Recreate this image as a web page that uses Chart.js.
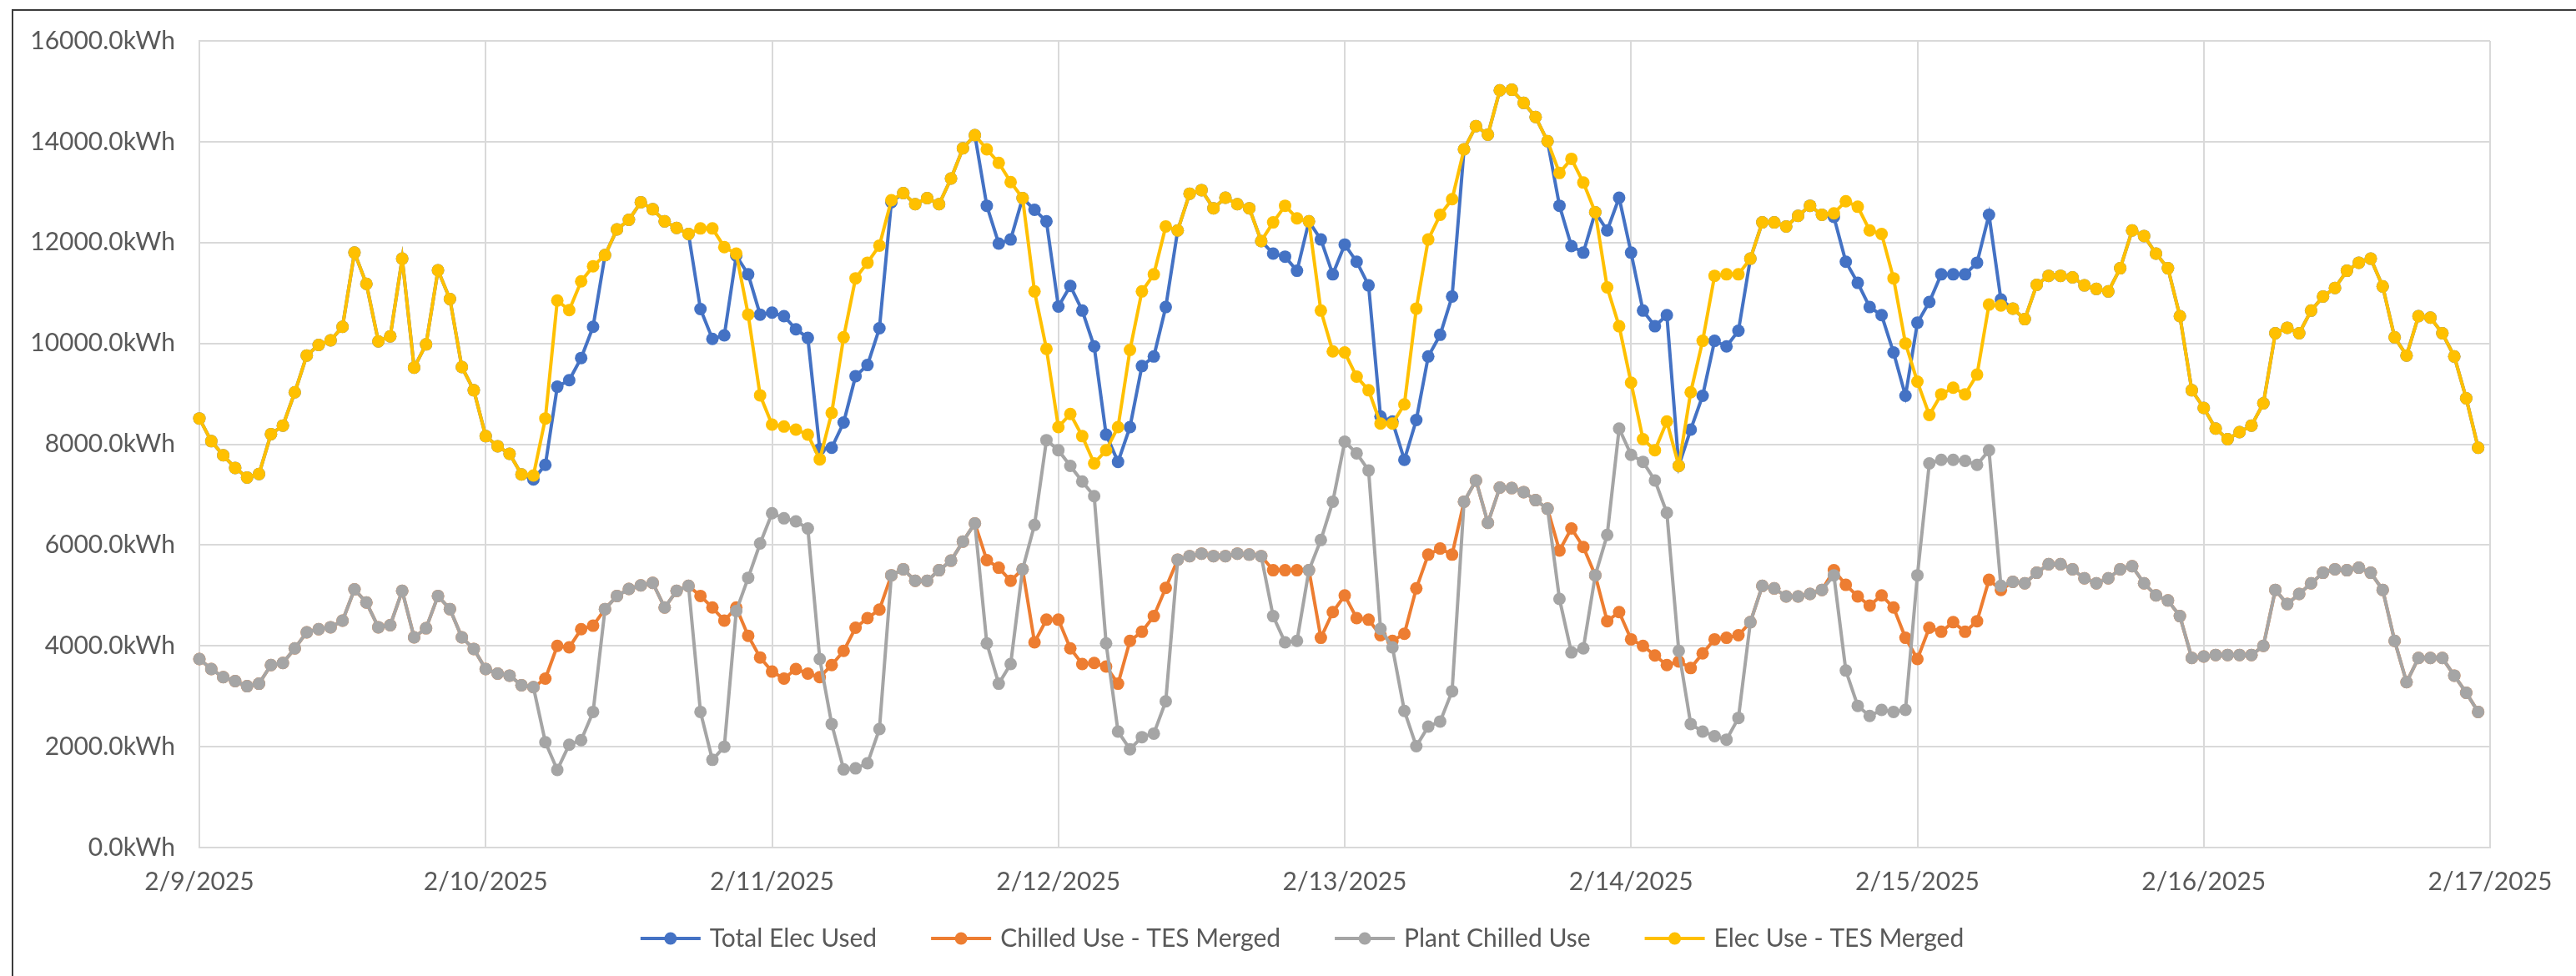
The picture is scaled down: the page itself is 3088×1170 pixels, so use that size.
<!DOCTYPE html>
<html>
<head>
<meta charset="utf-8">
<title>Hourly Electricity and Chilled Water Use</title>
<script src="https://cdn.jsdelivr.net/npm/chart.js@4.4.1/dist/chart.umd.min.js"></script>
<style>
  html, body { margin: 0; padding: 0; background: #ffffff; }
  #wrap { width: 3088px; height: 1170px; position: relative; }
  canvas { display: block; }
</style>
</head>
<body>
<div id="wrap"><canvas id="chart" width="3088" height="1170"></canvas></div>
<script>
// Day tick labels (one tick every 24 hourly samples)
const dayLabels = ['2/9/2025', '2/10/2025', '2/11/2025', '2/12/2025', '2/13/2025',
                   '2/14/2025', '2/15/2025', '2/16/2025', '2/17/2025'];
const hoursPerDay = 24;

const seriesNames = ['Total Elec Used', 'Chilled Use - TES Merged', 'Plant Chilled Use', 'Elec Use - TES Merged'];

// Hourly values, kWh
const totalElecUsed = [
  8510, 8060, 7780, 7530, 7340, 7410, 8200, 8370, 9030, 9760, 9970, 10060, 10330, 11800, 11180, 10040, 10140, 11680, 9520, 9980, 11450, 10880, 9530, 9070,
  8160, 7960, 7810, 7400, 7300, 7590, 9140, 9270, 9710, 10330, 11750, 12260, 12450, 12800, 12660, 12420, 12290, 12170, 10680, 10090, 10160, 11740, 11370, 10570,
  10610, 10540, 10280, 10110, 7900, 7930, 8430, 9350, 9570, 10300, 12800, 12980, 12760, 12880, 12760, 13270, 13870, 14130, 12730, 11980, 12060, 12880, 12650, 12420,
  10730, 11140, 10650, 9940, 8190, 7650, 8340, 9550, 9740, 10720, 12240, 12970, 13040, 12680, 12890, 12760, 12680, 12030, 11780, 11720, 11440, 12420, 12060, 11370,
  11960, 11620, 11150, 8550, 8450, 7690, 8480, 9740, 10170, 10930, 13850, 14310, 14140, 15020, 15030, 14770, 14490, 14010, 12730, 11930, 11800, 12600, 12240, 12890,
  11800, 10650, 10340, 10560, 7570, 8290, 8960, 10050, 9940, 10250, 11680, 12400, 12400, 12320, 12530, 12730, 12550, 12510, 11620, 11200, 10720, 10560, 9820, 8960,
  10410, 10820, 11370, 11370, 11370, 11600, 12550, 10870, 10690, 10480, 11160, 11340, 11340, 11310, 11150, 11080, 11030, 11490, 12240, 12130, 11780, 11490, 10540, 9070,
  8720, 8310, 8100, 8240, 8370, 8810, 10200, 10310, 10200, 10650, 10930, 11100, 11440, 11600, 11680, 11130, 10120, 9760, 10540, 10510, 10200, 9740, 8910, 7930
];

const chilledUseTesMerged = [
  3740, 3540, 3380, 3300, 3200, 3250, 3620, 3660, 3950, 4270, 4330, 4370, 4500, 5120, 4860, 4370, 4410, 5090, 4170, 4350, 4990, 4730, 4170, 3940,
  3540, 3450, 3410, 3220, 3180, 3350, 4000, 3970, 4330, 4400, 4730, 4990, 5130, 5200, 5250, 4760, 5090, 5190, 4990, 4760, 4500, 4760, 4200, 3770,
  3490, 3350, 3540, 3450, 3380, 3620, 3900, 4360, 4550, 4720, 5400, 5520, 5290, 5290, 5500, 5690, 6070, 6430, 5700, 5550, 5290, 5520, 4070, 4520,
  4520, 3950, 3640, 3660, 3590, 3250, 4100, 4280, 4590, 5150, 5710, 5780, 5830, 5780, 5780, 5830, 5810, 5780, 5500, 5500, 5500, 5500, 4160, 4670,
  5000, 4550, 4520, 4210, 4100, 4240, 5140, 5810, 5930, 5810, 6860, 7280, 6440, 7140, 7130, 7050, 6890, 6720, 5890, 6330, 5960, 5400, 4490, 4670,
  4130, 4000, 3810, 3620, 3690, 3560, 3850, 4130, 4160, 4210, 4470, 5190, 5140, 4980, 4980, 5030, 5110, 5500, 5210, 4980, 4800, 5000, 4760, 4160,
  3740, 4360, 4280, 4470, 4280, 4490, 5310, 5110, 5270, 5240, 5450, 5620, 5620, 5520, 5340, 5240, 5340, 5520, 5580, 5240, 5000, 4900, 4590, 3760,
  3790, 3820, 3820, 3820, 3820, 4000, 5110, 4830, 5030, 5240, 5450, 5520, 5500, 5550, 5450, 5110, 4100, 3280, 3760, 3760, 3760, 3410, 3070, 2690
];

const plantChilledUse = [
  3740, 3540, 3380, 3300, 3200, 3250, 3620, 3660, 3950, 4270, 4330, 4370, 4500, 5120, 4860, 4370, 4410, 5090, 4170, 4350, 4990, 4730, 4170, 3940,
  3540, 3450, 3410, 3220, 3180, 2090, 1540, 2040, 2130, 2690, 4730, 4990, 5130, 5200, 5250, 4760, 5090, 5190, 2690, 1740, 2000, 4690, 5350, 6030,
  6630, 6530, 6470, 6330, 3740, 2450, 1550, 1570, 1670, 2350, 5400, 5520, 5290, 5290, 5500, 5690, 6070, 6430, 4050, 3250, 3640, 5520, 6400, 8080,
  7880, 7570, 7260, 6970, 4050, 2300, 1950, 2190, 2260, 2900, 5710, 5780, 5830, 5780, 5780, 5830, 5810, 5780, 4590, 4070, 4100, 5500, 6100, 6860,
  8050, 7820, 7480, 4340, 3970, 2710, 2010, 2400, 2500, 3100, 6860, 7280, 6440, 7140, 7130, 7050, 6890, 6720, 4930, 3870, 3950, 5400, 6200, 8310,
  7790, 7650, 7280, 6640, 3900, 2450, 2300, 2210, 2140, 2570, 4470, 5190, 5140, 4980, 4980, 5030, 5110, 5400, 3510, 2810, 2610, 2730, 2690, 2730,
  5400, 7620, 7690, 7690, 7670, 7590, 7880, 5190, 5270, 5240, 5450, 5620, 5620, 5520, 5340, 5240, 5340, 5520, 5580, 5240, 5000, 4900, 4590, 3760,
  3790, 3820, 3820, 3820, 3820, 4000, 5110, 4830, 5030, 5240, 5450, 5520, 5500, 5550, 5450, 5110, 4100, 3280, 3760, 3760, 3760, 3410, 3070, 2690
];

const elecUseTesMerged = [
  8510, 8060, 7780, 7530, 7340, 7410, 8200, 8370, 9030, 9760, 9970, 10060, 10330, 11800, 11180, 10040, 10140, 11680, 9520, 9980, 11450, 10880, 9530, 9070,
  8160, 7960, 7810, 7400, 7380, 8510, 10850, 10660, 11230, 11530, 11750, 12260, 12450, 12800, 12660, 12420, 12290, 12170, 12280, 12280, 11910, 11780, 10570, 8970,
  8390, 8350, 8290, 8190, 7700, 8620, 10120, 11290, 11600, 11940, 12840, 12980, 12760, 12880, 12760, 13270, 13870, 14130, 13850, 13580, 13200, 12880, 11030, 9890,
  8340, 8600, 8160, 7620, 7880, 8340, 9870, 11030, 11370, 12320, 12240, 12970, 13040, 12680, 12890, 12760, 12680, 12030, 12400, 12730, 12480, 12420, 10650, 9840,
  9820, 9340, 9070, 8410, 8410, 8790, 10690, 12060, 12550, 12860, 13850, 14310, 14140, 15020, 15030, 14770, 14490, 14010, 13380, 13660, 13190, 12600, 11110, 10340,
  9220, 8100, 7880, 8450, 7570, 9030, 10050, 11340, 11370, 11370, 11680, 12400, 12400, 12320, 12530, 12730, 12550, 12580, 12820, 12710, 12240, 12170, 11290, 10000,
  9240, 8580, 8990, 9120, 8990, 9380, 10770, 10750, 10690, 10480, 11160, 11340, 11340, 11310, 11150, 11080, 11030, 11490, 12240, 12130, 11780, 11490, 10540, 9070,
  8720, 8310, 8100, 8240, 8370, 8810, 10200, 10310, 10200, 10650, 10930, 11100, 11440, 11600, 11680, 11130, 10120, 9760, 10540, 10510, 10200, 9740, 8910, 7930
];

const seriesValues = [totalElecUsed, chilledUseTesMerged, plantChilledUse, elecUseTesMerged];
const seriesColors = ['#4472C4', '#ED7D31', '#A5A5A5', '#FFC000'];
// later series sit on top of earlier ones
const drawOrder = [4, 3, 2, 1];

const yMax = 16000;
const yStep = 2000;

const FONT = "Lato, 'Liberation Sans', Arial, sans-serif";
const TEXT_COLOR = '#595959';
const GRID_COLOR = '#d9d9d9';
const LINE_WIDTH = 4;
const MARKER_RADIUS = 7.5;

const datasets = seriesNames.map((name, k) => ({
  label: name,
  data: seriesValues[k].map((v, i) => ({ x: i, y: v })),
  borderColor: seriesColors[k],
  backgroundColor: seriesColors[k],
  pointBackgroundColor: seriesColors[k],
  pointBorderColor: seriesColors[k],
  borderWidth: LINE_WIDTH,
  pointRadius: MARKER_RADIUS,
  pointBorderWidth: 0,
  pointHoverRadius: MARKER_RADIUS,
  tension: 0,
  fill: false,
  clip: false,
  order: drawOrder[k]
}));

// white page with the frame on the left and top edges
const framePlugin = {
  id: 'frame',
  beforeDraw(chart) {
    const ctx = chart.ctx;
    ctx.save();
    ctx.fillStyle = '#ffffff';
    ctx.fillRect(0, 0, chart.width, chart.height);
    ctx.strokeStyle = '#3b3b3b';
    ctx.lineWidth = 2;
    ctx.beginPath();
    ctx.moveTo(15, chart.height);
    ctx.lineTo(15, 12);
    ctx.lineTo(chart.width, 12);
    ctx.stroke();
    ctx.restore();
  }
};

// series key under the axis: a short line with a marker, then the series name
const KEY = { y: 1125, centerShift: 17, lineLen: 72, textGap: 11, itemGap: 65, fontSize: 30 };
const seriesKeyPlugin = {
  id: 'seriesKey',
  afterDraw(chart) {
    const ctx = chart.ctx;
    ctx.save();
    ctx.font = `${KEY.fontSize}px ${FONT}`;
    const items = chart.data.datasets.map(ds => ({
      label: ds.label,
      color: ds.borderColor,
      w: ctx.measureText(ds.label).width
    }));
    const total = items.reduce((s, it) => s + KEY.lineLen + KEY.textGap + it.w, 0)
                + KEY.itemGap * (items.length - 1);
    let x = chart.width / 2 + KEY.centerShift - total / 2;
    items.forEach(it => {
      ctx.strokeStyle = it.color;
      ctx.lineWidth = LINE_WIDTH;
      ctx.beginPath();
      ctx.moveTo(x, KEY.y);
      ctx.lineTo(x + KEY.lineLen, KEY.y);
      ctx.stroke();
      ctx.fillStyle = it.color;
      ctx.beginPath();
      ctx.arc(x + KEY.lineLen / 2, KEY.y, MARKER_RADIUS, 0, Math.PI * 2);
      ctx.fill();
      ctx.fillStyle = TEXT_COLOR;
      ctx.textAlign = 'left';
      ctx.textBaseline = 'middle';
      ctx.fillText(it.label, x + KEY.lineLen + KEY.textGap, KEY.y);
      x += KEY.lineLen + KEY.textGap + it.w + KEY.itemGap;
    });
    ctx.restore();
  }
};

new Chart(document.getElementById('chart'), {
  type: 'line',
  data: { datasets },
  plugins: [framePlugin, seriesKeyPlugin],
  options: {
    responsive: false,
    devicePixelRatio: 1,
    animation: false,
    events: [],
    layout: { padding: { left: 0, right: 103, top: 49, bottom: 84 } },
    scales: {
      x: {
        type: 'linear',
        min: 0,
        max: (dayLabels.length - 1) * hoursPerDay,
        afterFit(scale) { scale.height = 70; },
        afterBuildTicks(scale) {
          scale.ticks = dayLabels.map((_, d) => ({ value: d * hoursPerDay }));
        },
        ticks: {
          autoSkip: false,
          maxRotation: 0,
          padding: 23,
          color: TEXT_COLOR,
          font: { family: FONT, size: 30 },
          callback: (value) => dayLabels[Math.round(value / hoursPerDay)]
        },
        grid: { color: GRID_COLOR, lineWidth: 2, drawTicks: false },
        border: { color: GRID_COLOR, width: 2 }
      },
      y: {
        min: 0,
        max: yMax,
        afterFit(scale) { scale.width = 239; },
        ticks: {
          stepSize: yStep,
          padding: 29,
          color: TEXT_COLOR,
          font: { family: FONT, size: 30 },
          callback: (value) => value.toFixed(1) + 'kWh'
        },
        grid: { color: GRID_COLOR, lineWidth: 2, drawTicks: false },
        border: { color: GRID_COLOR, width: 2 }
      }
    },
    plugins: {
      tooltip: { enabled: false },
      legend: { display: false }
    }
  }
});
</script>
</body>
</html>
